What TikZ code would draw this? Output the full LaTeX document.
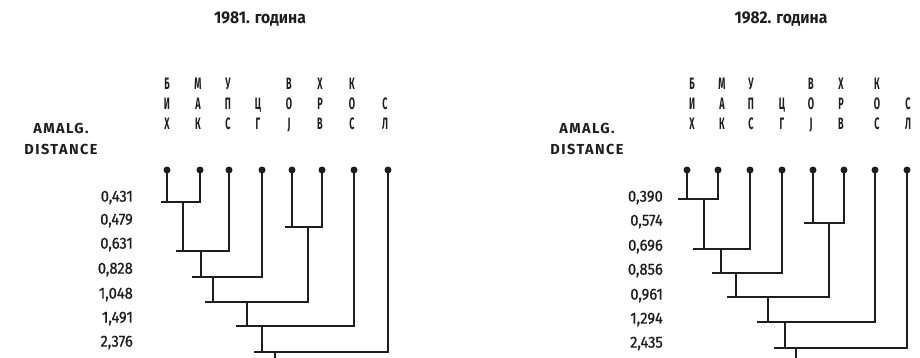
\documentclass[tikz,border=0pt]{standalone}
\usepackage{fontspec}
\setmainfont{Fira Sans}
\newfontfamily\condf{Fira Sans}[FakeStretch=0.55]
\newfontfamily\numf{Fira Sans}[FakeStretch=0.92,FakeBold=0.8]
\newfontfamily\headf{Fira Sans}[FakeStretch=0.92]
\newfontfamily\axf{Fira Sans}[LetterSpace=10]
\definecolor{ink}{HTML}{1E1E1E}
\newcommand\mrg[6]{%
  \coordinate (#1) at (#4,#3);
  \coordinate (#1w) at (#2,#3);
  \draw[br] (#5) -- (#5 |- #1);
  \draw[br] (#6) -- (#6 |- #1);
  \draw[br] (#1w) -- (#6 |- #1);
}
\begin{document}
\begin{tikzpicture}[x=1pt,y=-1pt,
  br/.style={draw=ink,line width=1.7pt,line cap=rect},
  leaf/.style={circle,fill=ink,inner sep=0pt,minimum size=7pt},
  col/.style={text=ink,font=\condf\bfseries\fontsize{16.5}{20}\selectfont,align=center,inner sep=0pt,anchor=north},
  ttl/.style={text=ink,font=\headf\bfseries\fontsize{17}{18}\selectfont,inner sep=0pt},
  axt/.style={text=ink,font=\axf\bfseries\fontsize{14.5}{21}\selectfont,align=center,inner sep=0pt},
  lab/.style={text=ink,font=\numf\fontsize{16}{16}\selectfont,anchor=mid east,inner sep=0pt}]
\useasboundingbox (0,0) rectangle (920,357);
% ---------- 1981 ----------
\node[ttl] (t1) at (260,19) {1981. година};
\node[axt] (ax1) at (61,139) {AMALG.\\DISTANCE};
\foreach \nm/\x/\txt in {Ab/167/Б\\И\\Х, Ac/198/М\\А\\К, Ad/228/У\\П\\С, Ag/289/В\\О\\Ј, Ah/320/Х\\Р\\В, Ai/352/К\\О\\С}
  \node[col] (\nm t) at (\x,78) {\txt};
\node[col] (Aet) at (258,98) {Ц\\Г};
\node[col] (Ajt) at (385,98) {С\\Л};
\foreach \nm/\x in {Aa/167,Ab/200,Ac/229,Ad/262,Ae/292,Af/322,Ag/354,Ah/388}
  \node[leaf] (\nm) at (\x,170) {};
\foreach \nm/\y/\v in {Al1/199/0{,}431,Al2/222/0{,}479,Al3/246/0{,}631,Al4/271/0{,}828,Al5/296/1{,}048,Al6/320/1{,}491,Al7/344/2{,}376}
  \node[lab] (\nm) at (133,\y) {\v};
\mrg{Am1}{162}{202}{183}{Aa}{Ab}
\mrg{Am2}{286}{227}{308}{Ae}{Af}
\mrg{Am3}{177}{251}{201}{Am1}{Ac}
\mrg{Am4}{193}{277}{213}{Am3}{Ad}
\mrg{Am5}{206}{302}{247}{Am4}{Am2}
\mrg{Am6}{237}{326}{262}{Am5}{Ag}
\mrg{Am7}{255}{352}{275}{Am6}{Ah}
\coordinate (Aroot) at (275,358);
\draw[br,line cap=butt] (Am7) -- (Aroot);
% ---------- 1982 ----------
\node[ttl] (t2) at (781,19) {1982. година};
\node[axt] (ax2) at (587,139) {AMALG.\\DISTANCE};
\foreach \nm/\x/\txt in {Bb/692/Б\\И\\Х, Bc/722/М\\А\\К, Bd/751/У\\П\\С, Bg/811/В\\О\\Ј, Bh/841/Х\\Р\\В, Bi/877/К\\О\\С}
  \node[col] (\nm t) at (\x,78) {\txt};
\node[col] (Bet) at (782,98) {Ц\\Г};
\node[col] (Bjt) at (908,98) {С\\Л};
\foreach \nm/\x in {Ba/687,Bb/718,Bc/750,Bd/782,Be/813,Bf/844,Bg/875,Bh/907}
  \node[leaf] (\nm) at (\x,170) {};
\foreach \nm/\y/\v in {Bl1/199/0{,}390,Bl2/223/0{,}574,Bl3/248/0{,}696,Bl4/272/0{,}856,Bl5/297/0{,}961,Bl6/321/1{,}294,Bl7/345/2{,}435}
  \node[lab] (\nm) at (663,\y) {\v};
\mrg{Bm1}{679}{199}{704}{Ba}{Bb}
\mrg{Bm2}{805}{223}{829}{Be}{Bf}
\mrg{Bm3}{694}{249}{721}{Bm1}{Bc}
\mrg{Bm4}{713}{273}{736}{Bm3}{Bd}
\mrg{Bm5}{728}{297}{768}{Bm4}{Bm2}
\mrg{Bm6}{758}{322}{785}{Bm5}{Bg}
\mrg{Bm7}{775}{348}{796}{Bm6}{Bh}
\coordinate (Broot) at (796,358);
\draw[br,line cap=butt] (Bm7) -- (Broot);
\end{tikzpicture}
\end{document}
